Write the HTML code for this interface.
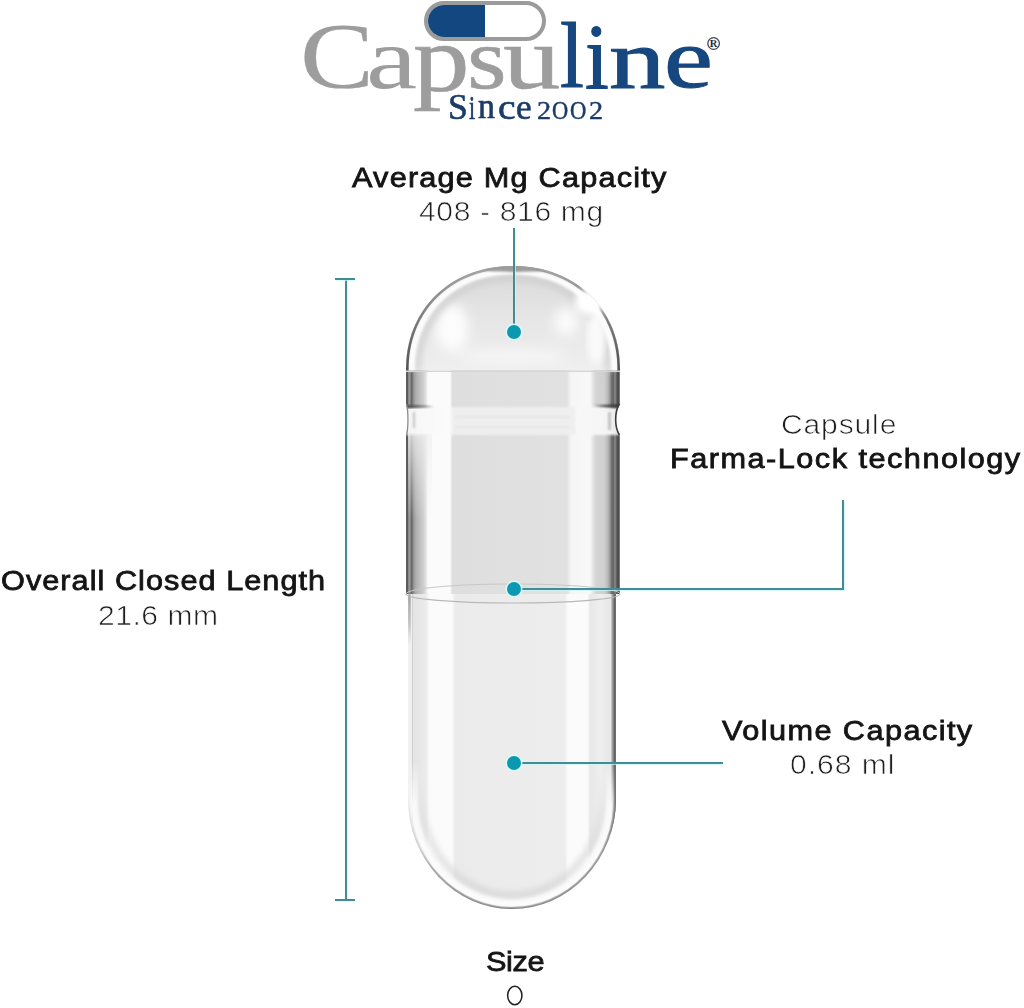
<!DOCTYPE html>
<html>
<head>
<meta charset="utf-8">
<style>
html,body{margin:0;padding:0;background:#fff;}
body{width:1024px;height:1008px;position:relative;overflow:hidden;font-family:"Liberation Sans",sans-serif;}
.t{position:absolute;white-space:nowrap;line-height:1;font-size:28.4px;transform-origin:0 0;}
.b{font-weight:normal;color:#141414;-webkit-text-stroke:0.8px #141414;}
.l{font-weight:normal;color:#1e1e1e;-webkit-text-stroke:0.7px #fff;}
.ln{position:absolute;background:#458b94;box-shadow:0 0 1px 0.5px rgba(200,248,252,0.7);}
.dot{position:absolute;width:14px;height:14px;border-radius:50%;background:#0c98ae;box-shadow:0 0 0 1.5px rgba(215,255,255,0.9);}
.lg{position:absolute;font-family:"Liberation Serif",serif;font-size:96px;line-height:1;transform-origin:0 0;}
.sn{position:absolute;-webkit-text-stroke:0.6px #1b3b68;font-family:"Liberation Serif",serif;font-size:35px;line-height:1;transform-origin:0 0;color:#1b3b68;}
</style>
</head>
<body>
<div id="pill" style="position:absolute;left:424px;top:1px;width:114px;height:32px;border:4px solid #9b9b9b;border-radius:20px;overflow:hidden;background:#fff;">
<div style="position:absolute;left:0;top:0;width:57px;height:32px;background:#134780;"></div>
</div>
<div id="logo">
<span class="lg" style="left:299.9px;top:9.2px;transform:scale(1.155,0.980);color:#9d9d9d;-webkit-text-stroke:0.2px #9d9d9d">C</span>
<span class="lg" style="left:365.6px;top:15.1px;transform:scale(1.200,0.911);color:#9d9d9d;-webkit-text-stroke:0.0px #9d9d9d">a</span>
<span class="lg" style="left:413.1px;top:12.3px;transform:scale(1.180,0.991);color:#9d9d9d;-webkit-text-stroke:0.6px #9d9d9d">p</span>
<span class="lg" style="left:466.6px;top:15.2px;transform:scale(1.061,0.909);color:#9d9d9d;-webkit-text-stroke:0.6px #9d9d9d">s</span>
<span class="lg" style="left:502.8px;top:13.6px;transform:scale(1.196,0.929);color:#9d9d9d;-webkit-text-stroke:0.6px #9d9d9d">u</span>
<span class="lg" style="left:559.9px;top:8.9px;transform:scale(0.896,0.976);color:#17477f;-webkit-text-stroke:1.2px #17477f">l</span>
<span class="lg" style="left:584.8px;top:10.2px;transform:scale(0.892,0.972);color:#17477f;-webkit-text-stroke:1.2px #17477f">i</span>
<span class="lg" style="left:609.4px;top:16.7px;transform:scale(1.174,0.891);color:#17477f;-webkit-text-stroke:1.2px #17477f">n</span>
<span class="lg" style="left:663.6px;top:17.4px;transform:scale(1.146,0.871);color:#17477f;-webkit-text-stroke:1.2px #17477f">e</span>
<svg style="position:absolute;left:700px;top:30px" width="30" height="30" viewBox="700 30 30 30"><circle cx="713.6" cy="43.5" r="5.8" fill="none" stroke="#3d4753" stroke-width="1.3"/><text x="713.6" y="47.3" text-anchor="middle" font-family="Liberation Serif" font-weight="bold" font-size="10.5" fill="#1d2a38">R</text></svg>
</div>
<div id="since">
<span class="sn" style="left:447.8px;top:89.3px;transform:scale(1.019,1.025)">S</span>
<span class="sn" style="left:469.2px;top:89.8px;transform:scale(0.620,0.992)">i</span>
<span class="sn" style="left:478.2px;top:89.3px;transform:scale(0.967,1.012)">n</span>
<span class="sn" style="left:497.5px;top:89.0px;transform:scale(1.129,1.035)">c</span>
<span class="sn" style="left:515.6px;top:89.0px;transform:scale(1.007,1.035)">e</span>
<span class="sn" style="left:536.6px;top:97.7px;transform:scale(0.807,0.721)">2</span>
<span class="sn" style="left:551.7px;top:97.6px;transform:scale(0.643,0.733)">O</span>
<span class="sn" style="left:570.4px;top:97.6px;transform:scale(0.648,0.733)">O</span>
<span class="sn" style="left:588.6px;top:97.7px;transform:scale(0.807,0.721)">2</span>
</div>
<div class="t b" id="h1" style="left:351.6px;top:163.2px;letter-spacing:1.12px;transform:scaleX(1.080);">Average Mg Capacity</div>
<div class="t l" id="v1" style="left:418.6px;top:197.0px;letter-spacing:0.59px;transform:scaleX(1.060);">408 - 816 mg</div>
<div class="t l" id="v2" style="left:780.5px;top:409.8px;letter-spacing:0.78px;transform:scaleX(1.060);">Capsule</div>
<div class="t b" id="h2" style="left:670.2px;top:443.5px;letter-spacing:1.38px;transform:scaleX(1.080);">Farma-Lock technology</div>
<div class="t b" id="h3" style="left:0.6px;top:566.0px;letter-spacing:0.96px;transform:scaleX(1.080);">Overall Closed Length</div>
<div class="t l" id="v3" style="left:97.5px;top:600.7px;letter-spacing:0.48px;transform:scaleX(1.060);">21.6 mm</div>
<div class="t b" id="h4" style="left:722.3px;top:715.5px;letter-spacing:1.33px;transform:scaleX(1.080);">Volume Capacity</div>
<div class="t l" id="v4" style="left:789.6px;top:750.3px;letter-spacing:0.90px;transform:scaleX(1.060);">0.68 ml</div>
<div class="t b" id="h5" style="left:486.0px;top:947.3px;letter-spacing:-0.35px;transform:scaleX(1.080);">Size</div>
<svg style="position:absolute;left:500px;top:980px" width="30" height="30" viewBox="500 980 30 30"><ellipse cx="514.8" cy="995.5" rx="7.15" ry="9.3" fill="none" stroke="#1e1e1e" stroke-width="1.5"/></svg>
<svg width="1024" height="1008" viewBox="0 0 1024 1008" style="position:absolute;left:0;top:0">
<defs>
<linearGradient id="gcap" gradientUnits="userSpaceOnUse" x1="406" y1="0" x2="620" y2="0" >
<stop offset="0.0000" stop-color="#707070"/>
<stop offset="0.0028" stop-color="#585858"/>
<stop offset="0.0075" stop-color="#5a5a5a"/>
<stop offset="0.0131" stop-color="#989898"/>
<stop offset="0.0187" stop-color="#949494"/>
<stop offset="0.0248" stop-color="#666666"/>
<stop offset="0.0304" stop-color="#787878"/>
<stop offset="0.0374" stop-color="#9c9c9c"/>
<stop offset="0.0514" stop-color="#b4b4b4"/>
<stop offset="0.0794" stop-color="#cccccc"/>
<stop offset="0.0935" stop-color="#e2e2e2"/>
<stop offset="0.1028" stop-color="#fbfbfb"/>
<stop offset="0.2056" stop-color="#fbfbfb"/>
<stop offset="0.2173" stop-color="#dedede"/>
<stop offset="0.5000" stop-color="#e0e0e0"/>
<stop offset="0.7523" stop-color="#e1e1e1"/>
<stop offset="0.7710" stop-color="#f5f5f5"/>
<stop offset="0.8598" stop-color="#f8f8f8"/>
<stop offset="0.8692" stop-color="#eaeaea"/>
<stop offset="0.8879" stop-color="#d4d4d4"/>
<stop offset="0.9252" stop-color="#d0d0d0"/>
<stop offset="0.9393" stop-color="#c0c0c0"/>
<stop offset="0.9509" stop-color="#a2a2a2"/>
<stop offset="0.9603" stop-color="#727272"/>
<stop offset="0.9696" stop-color="#666666"/>
<stop offset="0.9766" stop-color="#8c8c8c"/>
<stop offset="0.9827" stop-color="#686868"/>
<stop offset="0.9860" stop-color="#525252"/>
<stop offset="0.9963" stop-color="#4a4a4a"/>
<stop offset="0.9991" stop-color="#a8a8a8"/>
</linearGradient>
<linearGradient id="gbody" gradientUnits="userSpaceOnUse" x1="408" y1="0" x2="616" y2="0" >
<stop offset="0.0000" stop-color="#f2f2f2"/>
<stop offset="0.0168" stop-color="#eeeeee"/>
<stop offset="0.0207" stop-color="#d0d0d0"/>
<stop offset="0.0264" stop-color="#e4e4e4"/>
<stop offset="0.0577" stop-color="#e7e7e7"/>
<stop offset="0.0865" stop-color="#ececec"/>
<stop offset="0.1034" stop-color="#fbfbfb"/>
<stop offset="0.2115" stop-color="#fbfbfb"/>
<stop offset="0.2260" stop-color="#ebebeb"/>
<stop offset="0.5048" stop-color="#ececec"/>
<stop offset="0.7548" stop-color="#ededed"/>
<stop offset="0.7692" stop-color="#fbfbfb"/>
<stop offset="0.8630" stop-color="#fbfbfb"/>
<stop offset="0.8750" stop-color="#e8e8e8"/>
<stop offset="0.9279" stop-color="#eeeeee"/>
<stop offset="0.9736" stop-color="#e6e6e6"/>
<stop offset="0.9808" stop-color="#b0b0b0"/>
<stop offset="0.9880" stop-color="#808080"/>
<stop offset="0.9952" stop-color="#5a5a5a"/>
<stop offset="1.0000" stop-color="#808080"/>
</linearGradient>
<linearGradient id="grim" gradientUnits="userSpaceOnUse" x1="0" y1="800" x2="0" y2="909"><stop offset="0" stop-color="#eeeeee"/><stop offset="0.45" stop-color="#c8c8c8"/><stop offset="0.65" stop-color="#959595"/><stop offset="1" stop-color="#7a7a7a"/></linearGradient>
<linearGradient id="grimr" gradientUnits="userSpaceOnUse" x1="0" y1="800" x2="0" y2="909"><stop offset="0" stop-color="#6a6a6a"/><stop offset="0.5" stop-color="#8a8a8a"/><stop offset="1" stop-color="#7a7a7a"/></linearGradient>
<linearGradient id="gwring" gradientUnits="userSpaceOnUse" x1="0" y1="760" x2="0" y2="909"><stop offset="0" stop-color="#fcfcfc" stop-opacity="0"/><stop offset="0.3" stop-color="#fcfcfc" stop-opacity="0.9"/><stop offset="1" stop-color="#fdfdfd" stop-opacity="1"/></linearGradient>
<linearGradient id="ggring" gradientUnits="userSpaceOnUse" x1="0" y1="780" x2="0" y2="909"><stop offset="0" stop-color="#d6d6d6" stop-opacity="0"/><stop offset="0.4" stop-color="#d6d6d6" stop-opacity="0.8"/><stop offset="1" stop-color="#d0d0d0" stop-opacity="1"/></linearGradient>
<linearGradient id="gdomeo" gradientUnits="userSpaceOnUse" x1="0" y1="266" x2="0" y2="372"><stop offset="0" stop-color="#a8a8a8"/><stop offset="0.35" stop-color="#8a8a8a"/><stop offset="1" stop-color="#505050"/></linearGradient>
<linearGradient id="gdomet" gradientUnits="userSpaceOnUse" x1="0" y1="266" x2="0" y2="372"><stop offset="0" stop-color="#d8d8d8"/><stop offset="0.5" stop-color="#e6e6e6"/><stop offset="0.85" stop-color="#ececec"/><stop offset="1" stop-color="#f0f0f0"/></linearGradient>
<linearGradient id="gshl" gradientUnits="userSpaceOnUse" x1="0" y1="594" x2="0" y2="645"><stop offset="0" stop-color="#7a7a7a" stop-opacity="0.9"/><stop offset="0.6" stop-color="#8a8a8a" stop-opacity="0.6"/><stop offset="1" stop-color="#aaaaaa" stop-opacity="0"/></linearGradient>
<linearGradient id="ggroove" gradientUnits="userSpaceOnUse" x1="406" y1="0" x2="620" y2="0" >
<stop offset="0.0000" stop-color="#d8d8d8"/>
<stop offset="0.0070" stop-color="#f4f4f4"/>
<stop offset="0.0654" stop-color="#f8f8f8"/>
<stop offset="0.2056" stop-color="#fbfbfb"/>
<stop offset="0.2196" stop-color="#eeeeee"/>
<stop offset="0.5000" stop-color="#eeeeee"/>
<stop offset="0.7850" stop-color="#efefef"/>
<stop offset="0.7991" stop-color="#f8f8f8"/>
<stop offset="0.9065" stop-color="#f6f6f6"/>
<stop offset="0.9626" stop-color="#f2f2f2"/>
<stop offset="0.9813" stop-color="#e8e8e8"/>
<stop offset="1.0000" stop-color="#f0f0f0"/>
</linearGradient>
<linearGradient id="glt" gradientUnits="userSpaceOnUse" x1="0" y1="434" x2="0" y2="520"><stop offset="0" stop-color="#f0f0f0" stop-opacity="0.75"/><stop offset="1" stop-color="#f0f0f0" stop-opacity="0"/></linearGradient>
<clipPath id="ccap"><path d="M406.00,370.00 L406.08,365.10 L406.31,360.58 L406.70,356.20 L407.24,351.93 L407.94,347.74 L408.79,343.64 L409.79,339.61 L410.95,335.65 L412.25,331.78 L413.70,327.98 L415.30,324.26 L417.04,320.63 L418.92,317.08 L420.94,313.63 L423.10,310.27 L425.39,307.00 L427.81,303.84 L430.37,300.79 L433.04,297.84 L435.84,295.00 L438.76,292.28 L441.79,289.68 L444.93,287.20 L448.19,284.85 L451.54,282.62 L455.00,280.52 L458.55,278.56 L462.20,276.73 L465.94,275.04 L469.76,273.48 L473.67,272.08 L477.66,270.81 L481.73,269.69 L485.88,268.71 L490.10,267.89 L494.41,267.21 L498.80,266.68 L503.30,266.30 L507.95,266.08 L513.00,266.00 L518.05,266.08 L522.70,266.30 L527.20,266.68 L531.59,267.21 L535.90,267.89 L540.12,268.71 L544.27,269.69 L548.34,270.81 L552.33,272.08 L556.24,273.48 L560.06,275.04 L563.80,276.73 L567.45,278.56 L571.00,280.52 L574.46,282.62 L577.81,284.85 L581.07,287.20 L584.21,289.68 L587.24,292.28 L590.16,295.00 L592.96,297.84 L595.63,300.79 L598.19,303.84 L600.61,307.00 L602.90,310.27 L605.06,313.63 L607.08,317.08 L608.96,320.63 L610.70,324.26 L612.30,327.98 L613.75,331.78 L615.05,335.65 L616.21,339.61 L617.21,343.64 L618.06,347.74 L618.76,351.93 L619.30,356.20 L619.69,360.58 L619.92,365.10 L620.00,370.00 L620,594 L406,594 Z"/></clipPath>
<clipPath id="cbody"><path d="M408,584 L616,584 L616,799 A104.0,110 0 0 1 408,799 Z"/></clipPath>
<filter id="bl1"><feGaussianBlur stdDeviation="1"/></filter>
<filter id="bl3"><feGaussianBlur stdDeviation="3"/></filter>
<filter id="bl6"><feGaussianBlur stdDeviation="6"/></filter>
</defs>
<g clip-path="url(#cbody)"><rect x="408" y="584" width="208" height="325" fill="url(#gbody)"/>
<rect x="408" y="594" width="2.6" height="55" fill="url(#gshl)" filter="url(#bl1)"/>
<path d="M408.8,799 A103.2,109.2 0 0 0 513,908.2" fill="none" stroke="url(#grim)" stroke-width="3" />
<path d="M513,908.2 A103.2,109.2 0 0 0 615.2,799" fill="none" stroke="url(#grimr)" stroke-width="3.4" />
<path d="M414,759 L414,799 A98.0,104 0 0 0 610,799 L610,759" fill="none" stroke="url(#gwring)" stroke-width="8" filter="url(#bl1)"/>
<path d="M422,779 L422,799 A90.0,96 0 0 0 602,799 L602,779" fill="none" stroke="url(#ggring)" stroke-width="5" filter="url(#bl3)"/>
</g>
<g clip-path="url(#ccap)"><rect x="406" y="266" width="214" height="328" fill="url(#gcap)"/>
<path d="M406.00,370.00 L406.08,365.10 L406.31,360.58 L406.70,356.20 L407.24,351.93 L407.94,347.74 L408.79,343.64 L409.79,339.61 L410.95,335.65 L412.25,331.78 L413.70,327.98 L415.30,324.26 L417.04,320.63 L418.92,317.08 L420.94,313.63 L423.10,310.27 L425.39,307.00 L427.81,303.84 L430.37,300.79 L433.04,297.84 L435.84,295.00 L438.76,292.28 L441.79,289.68 L444.93,287.20 L448.19,284.85 L451.54,282.62 L455.00,280.52 L458.55,278.56 L462.20,276.73 L465.94,275.04 L469.76,273.48 L473.67,272.08 L477.66,270.81 L481.73,269.69 L485.88,268.71 L490.10,267.89 L494.41,267.21 L498.80,266.68 L503.30,266.30 L507.95,266.08 L513.00,266.00 L518.05,266.08 L522.70,266.30 L527.20,266.68 L531.59,267.21 L535.90,267.89 L540.12,268.71 L544.27,269.69 L548.34,270.81 L552.33,272.08 L556.24,273.48 L560.06,275.04 L563.80,276.73 L567.45,278.56 L571.00,280.52 L574.46,282.62 L577.81,284.85 L581.07,287.20 L584.21,289.68 L587.24,292.28 L590.16,295.00 L592.96,297.84 L595.63,300.79 L598.19,303.84 L600.61,307.00 L602.90,310.27 L605.06,313.63 L607.08,317.08 L608.96,320.63 L610.70,324.26 L612.30,327.98 L613.75,331.78 L615.05,335.65 L616.21,339.61 L617.21,343.64 L618.06,347.74 L618.76,351.93 L619.30,356.20 L619.69,360.58 L619.92,365.10 L620.00,370.00 Z" fill="url(#gdomet)"/>
<g filter="url(#bl6)"><ellipse cx="452" cy="328" rx="16" ry="24" fill="#fdfdfd"/><ellipse cx="566" cy="322" rx="12" ry="14" fill="#fbfbfb"/><ellipse cx="513" cy="356" rx="55" ry="7" fill="#f6f6f6"/><ellipse cx="600" cy="322" rx="7" ry="20" fill="#f8f8f8"/></g>
<path d="M418.00,371.00 L418.00,370.00 L418.07,365.66 L418.28,361.66 L418.62,357.79 L419.10,354.01 L419.72,350.31 L420.48,346.68 L421.37,343.11 L422.39,339.62 L423.55,336.19 L424.84,332.83 L426.25,329.54 L427.80,326.32 L429.47,323.19 L431.26,320.13 L433.18,317.16 L435.22,314.27 L437.37,311.48 L439.63,308.77 L442.01,306.17 L444.49,303.66 L447.08,301.25 L449.78,298.95 L452.57,296.76 L455.46,294.67 L458.44,292.70 L461.50,290.85 L464.66,289.11 L467.90,287.49 L471.22,285.99 L474.61,284.62 L478.08,283.37 L481.63,282.25 L485.24,281.26 L488.92,280.40 L492.67,279.67 L496.49,279.07 L500.40,278.60 L504.39,278.27 L508.52,278.07 L513.00,278.00 L517.48,278.07 L521.61,278.27 L525.60,278.60 L529.51,279.07 L533.33,279.67 L537.08,280.40 L540.76,281.26 L544.37,282.25 L547.92,283.37 L551.39,284.62 L554.78,285.99 L558.10,287.49 L561.34,289.11 L564.50,290.85 L567.56,292.70 L570.54,294.67 L573.43,296.76 L576.22,298.95 L578.92,301.25 L581.51,303.66 L583.99,306.17 L586.37,308.77 L588.63,311.48 L590.78,314.27 L592.82,317.16 L594.74,320.13 L596.53,323.19 L598.20,326.32 L599.75,329.54 L601.16,332.83 L602.45,336.19 L603.61,339.62 L604.63,343.11 L605.52,346.68 L606.28,350.31 L606.90,354.01 L607.38,357.79 L607.72,361.66 L607.93,365.66 L608.00,370.00 L608.00,371.00" fill="none" stroke="#cdcdcd" stroke-width="5" filter="url(#bl3)"/>
<path d="M411.50,371.00 L411.50,370.00 L411.57,365.36 L411.80,361.07 L412.16,356.93 L412.68,352.89 L413.34,348.92 L414.15,345.03 L415.10,341.21 L416.19,337.47 L417.43,333.80 L418.81,330.20 L420.32,326.68 L421.97,323.24 L423.76,319.88 L425.67,316.61 L427.72,313.43 L429.89,310.34 L432.19,307.34 L434.61,304.45 L437.15,301.66 L439.81,298.97 L442.57,296.39 L445.45,293.93 L448.43,291.58 L451.52,289.35 L454.70,287.24 L457.98,285.25 L461.35,283.39 L464.81,281.66 L468.36,280.06 L471.99,278.59 L475.69,277.25 L479.48,276.05 L483.34,274.99 L487.27,274.07 L491.28,273.29 L495.36,272.64 L499.53,272.14 L503.80,271.79 L508.21,271.57 L513.00,271.50 L517.79,271.57 L522.20,271.79 L526.47,272.14 L530.64,272.64 L534.72,273.29 L538.73,274.07 L542.66,274.99 L546.52,276.05 L550.31,277.25 L554.01,278.59 L557.64,280.06 L561.19,281.66 L564.65,283.39 L568.02,285.25 L571.30,287.24 L574.48,289.35 L577.57,291.58 L580.55,293.93 L583.43,296.39 L586.19,298.97 L588.85,301.66 L591.39,304.45 L593.81,307.34 L596.11,310.34 L598.28,313.43 L600.33,316.61 L602.24,319.88 L604.03,323.24 L605.68,326.68 L607.19,330.20 L608.57,333.80 L609.81,337.47 L610.90,341.21 L611.85,345.03 L612.66,348.92 L613.32,352.89 L613.84,356.93 L614.20,361.07 L614.43,365.36 L614.50,370.00 L614.50,371.00" fill="none" stroke="#fcfcfc" stroke-width="6" filter="url(#bl1)"/>
<path d="M407.30,371.00 L407.30,370.00 L407.38,365.16 L407.61,360.69 L407.99,356.37 L408.53,352.16 L409.22,348.02 L410.06,343.97 L411.05,339.99 L412.19,336.08 L413.47,332.25 L414.91,328.50 L416.48,324.83 L418.20,321.24 L420.06,317.74 L422.06,314.33 L424.19,311.01 L426.45,307.79 L428.85,304.67 L431.37,301.65 L434.01,298.74 L436.78,295.94 L439.66,293.26 L442.66,290.69 L445.76,288.24 L448.97,285.91 L452.29,283.71 L455.70,281.64 L459.22,279.70 L462.82,277.89 L466.51,276.22 L470.29,274.69 L474.15,273.30 L478.09,272.05 L482.11,270.94 L486.21,269.98 L490.38,269.16 L494.63,268.49 L498.98,267.97 L503.42,267.60 L508.02,267.37 L513.00,267.30 L517.98,267.37 L522.58,267.60 L527.02,267.97 L531.37,268.49 L535.62,269.16 L539.79,269.98 L543.89,270.94 L547.91,272.05 L551.85,273.30 L555.71,274.69 L559.49,276.22 L563.18,277.89 L566.78,279.70 L570.30,281.64 L573.71,283.71 L577.03,285.91 L580.24,288.24 L583.34,290.69 L586.34,293.26 L589.22,295.94 L591.99,298.74 L594.63,301.65 L597.15,304.67 L599.55,307.79 L601.81,311.01 L603.94,314.33 L605.94,317.74 L607.80,321.24 L609.52,324.83 L611.09,328.50 L612.53,332.25 L613.81,336.08 L614.95,339.99 L615.94,343.97 L616.78,348.02 L617.47,352.16 L618.01,356.37 L618.39,360.69 L618.62,365.16 L618.70,370.00 L618.70,371.00" fill="none" stroke="url(#gdomeo)" stroke-width="2.6"/>
<ellipse cx="516" cy="266.5" rx="42" ry="5.5" fill="#9c9c9c" filter="url(#bl1)"/>
<ellipse cx="596" cy="338" rx="9" ry="26" fill="#fafafa" filter="url(#bl3)"/>
<ellipse cx="590" cy="302" rx="15" ry="13" fill="#ffffff" filter="url(#bl3)"/>
<rect x="406" y="370.5" width="214" height="1.5" fill="#d6d6d6"/>
<rect x="406" y="407" width="214" height="28" fill="url(#ggroove)" filter="url(#bl1)"/>
<g filter="url(#bl1)" opacity="0.7"><rect x="455" y="416" width="115" height="2" fill="#e2e2e2"/><rect x="455" y="426" width="115" height="2" fill="#e4e4e4"/><rect x="413" y="412" width="2" height="16" fill="#b0b0b0"/><rect x="608.5" y="412" width="2" height="18" fill="#909090"/></g>
<path d="M406,404.8 L434,406.5 L406,408.6 Z" fill="#505050" filter="url(#bl1)"/>
<path d="M620,404 L594,405.8 L620,408.6 Z" fill="#3a3a3a" filter="url(#bl1)"/>
</g>
<rect x="408" y="434" width="24" height="86" fill="url(#glt)"/>
<path d="M622,404 L620,404 C615,412 615,427 620,435 L622,435 Z" fill="#fff"/>
<path d="M619.4,404 C614.4,412 614.4,427 619.4,435" fill="none" stroke="#3c3c3c" stroke-width="1.6"/>
<path d="M404,404 L406,404 C408,412 408,427 406,435 L404,435 Z" fill="#fff"/>
<path d="M406.6,404 C408.4,412 408.4,427 406.6,435" fill="none" stroke="#8a8a8a" stroke-width="1.2"/>
<path d="M406,594 A107.0,9 0 0 0 620,594" fill="none" stroke="#b8b8b8" stroke-width="1.2"/>
<path d="M406,594 A107.0,10 0 0 1 620,594" fill="none" stroke="#c8c8c8" stroke-width="1"/>
</svg>
<div class="ln" style="left:345px;top:279px;width:2px;height:621px;"></div>
<div class="ln" style="left:335px;top:278px;width:20px;height:2px;"></div>
<div class="ln" style="left:335px;top:899px;width:20px;height:2px;"></div>
<div class="ln" style="left:513px;top:228px;width:2px;height:104px;"></div>
<div class="dot" style="left:507px;top:325px;"></div>
<div class="ln" style="left:842px;top:500px;width:2px;height:90px;"></div>
<div class="ln" style="left:514px;top:588px;width:330px;height:2px;"></div>
<div class="dot" style="left:507px;top:582px;"></div>
<div class="ln" style="left:514px;top:762px;width:209px;height:2px;"></div>
<div class="dot" style="left:507px;top:756px;"></div>
</body>
</html>
